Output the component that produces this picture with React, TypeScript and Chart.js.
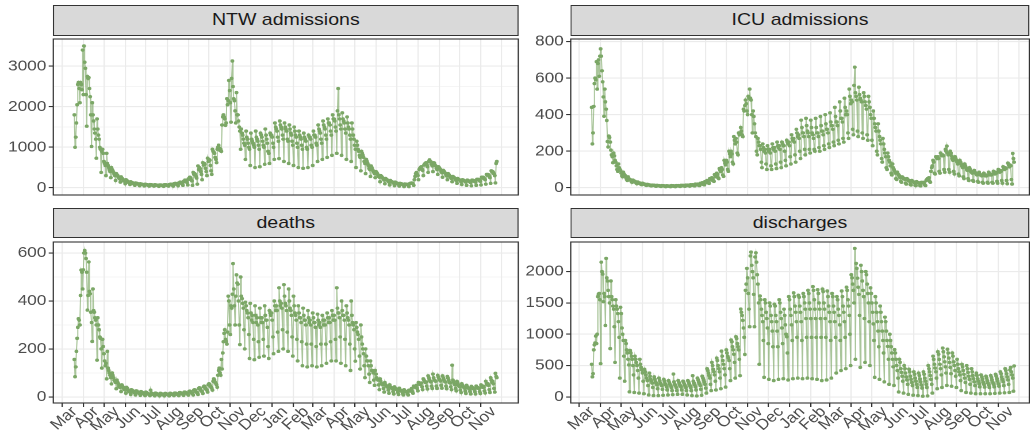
import { useEffect, useRef } from "react";
import { Chart, registerables } from "chart.js";

Chart.register(...registerables);

// ---------------- data ----------------
const FIRST_DATE = "2020-03-19";
const ORIGIN_DATE = "2020-03-01";

const MONTH_STARTS = [
  "2020-03-01", "2020-04-01", "2020-05-01", "2020-06-01", "2020-07-01", "2020-08-01",
  "2020-09-01", "2020-10-01", "2020-11-01", "2020-12-01", "2021-01-01", "2021-02-01",
  "2021-03-01", "2021-04-01", "2021-05-01", "2021-06-01", "2021-07-01", "2021-08-01",
  "2021-09-01", "2021-10-01", "2021-11-01", "2021-12-01",
];
const MONTH_LABELS = [
  "Mar", "Apr", "May", "Jun", "Jul", "Aug", "Sep", "Oct", "Nov", "Dec", "Jan", "Feb",
  "Mar", "Apr", "May", "Jun", "Jul", "Aug", "Sep", "Oct", "Nov", "",
];

const NTW_ADMISSIONS = [
  1800, 1000, 1250, 1600, 2050, 2550, 2600,
  2450, 2100, 2600, 2550, 2420, 3400, 2300,
  3500, 3100, 2950, 2300, 1520, 2750, 2700,
  2720, 2450, 2250, 1800, 1020, 2100, 1800,
  1650, 1450, 1350, 1200, 730, 1700, 1450,
  1300, 1200, 1000, 950, 380, 900, 950,
  850, 650, 600, 550, 300, 850, 600,
  550, 500, 450, 400, 250, 500, 450,
  420, 380, 330, 300, 180, 350, 320,
  300, 260, 240, 220, 140, 270, 240,
  220, 200, 170, 160, 100, 200, 180,
  170, 150, 130, 120, 80, 150, 130,
  130, 120, 100, 100, 60, 120, 110,
  110, 100, 90, 80, 50, 100, 90,
  90, 85, 75, 70, 45, 90, 80,
  80, 75, 65, 60, 40, 80, 75,
  75, 70, 60, 55, 40, 75, 70,
  70, 65, 60, 55, 35, 70, 65,
  70, 65, 55, 50, 35, 75, 70,
  75, 70, 60, 55, 40, 80, 75,
  90, 85, 70, 65, 40, 100, 95,
  110, 100, 85, 80, 50, 120, 115,
  140, 130, 110, 100, 60, 160, 150,
  190, 180, 150, 130, 70, 220, 210,
  260, 250, 200, 170, 60, 380, 330,
  350, 330, 280, 240, 90, 540, 450,
  500, 470, 400, 330, 200, 620, 560,
  600, 580, 480, 400, 300, 730, 650,
  700, 680, 550, 420, 330, 950, 900,
  880, 850, 750, 700, 620, 950, 1000,
  1050, 980, 920, 950, 900, 1550, 1750,
  1800, 1750, 1700, 1540, 1600, 2200, 2050,
  2150, 2650, 2400, 2100, 1620, 2700, 3130,
  2500, 2200, 2150, 1900, 1600, 2350, 1800,
  1800, 1650, 1500, 1400, 950, 1450, 1350,
  1300, 1200, 1100, 1050, 700, 1400, 1250,
  1200, 1100, 1000, 950, 550, 1350, 1200,
  1150, 1100, 1050, 1000, 500, 1400, 1250,
  1200, 1150, 1050, 950, 520, 1350, 1300,
  1250, 1150, 1050, 1000, 580, 1450, 1300,
  1200, 1100, 900, 850, 600, 1350, 1300,
  1300, 1250, 1100, 1000, 700, 1600, 1500,
  1450, 1400, 1250, 1150, 720, 1650, 1550,
  1500, 1450, 1300, 1200, 650, 1600, 1500,
  1450, 1400, 1200, 1150, 600, 1550, 1450,
  1350, 1300, 1150, 1050, 550, 1500, 1400,
  1300, 1250, 1100, 1000, 500, 1400, 1300,
  1250, 1200, 1050, 950, 480, 1350, 1250,
  1200, 1150, 1000, 950, 500, 1300, 1250,
  1250, 1200, 1050, 1000, 550, 1400, 1300,
  1300, 1250, 1100, 1050, 650, 1550, 1450,
  1400, 1350, 1200, 1100, 700, 1650, 1550,
  1500, 1450, 1300, 1200, 750, 1700, 1600,
  1600, 1550, 1400, 1300, 800, 1800, 1700,
  1700, 1650, 1500, 1400, 850, 1900, 2450,
  1800, 1700, 1550, 1450, 800, 1850, 1700,
  1650, 1600, 1450, 1350, 700, 1750, 1600,
  1500, 1450, 1300, 1200, 650, 1600, 1450,
  1300, 1200, 1050, 950, 500, 1150, 1050,
  950, 900, 800, 750, 420, 900, 850,
  800, 750, 650, 600, 350, 700, 650,
  600, 550, 480, 450, 280, 540, 500,
  450, 420, 380, 350, 250, 400, 380,
  350, 320, 280, 260, 150, 300, 280,
  260, 240, 210, 190, 100, 230, 210,
  200, 180, 160, 140, 70, 180, 160,
  150, 140, 120, 110, 50, 140, 130,
  120, 110, 95, 85, 40, 110, 100,
  100, 90, 80, 70, 30, 95, 90,
  90, 85, 75, 70, 30, 100, 110,
  110, 120, 110, 100, 60, 200, 280,
  350, 380, 330, 300, 200, 450, 480,
  500, 520, 460, 430, 300, 560, 590,
  600, 620, 560, 520, 380, 650, 690,
  650, 640, 580, 540, 400, 620, 610,
  560, 540, 480, 450, 330, 520, 500,
  470, 450, 400, 370, 260, 430, 410,
  380, 360, 320, 290, 200, 350, 330,
  300, 280, 250, 230, 150, 280, 260,
  250, 230, 200, 180, 110, 230, 210,
  200, 190, 170, 150, 80, 200, 190,
  180, 170, 150, 140, 60, 190, 180,
  170, 160, 140, 130, 50, 190, 180,
  180, 170, 150, 140, 60, 210, 200,
  210, 200, 170, 160, 70, 260, 240,
  260, 250, 220, 200, 90, 330, 310,
  330, 320, 280, 250, 110, 420, 390,
  400, 380, 340, 300, 120, 600, 650,
];

const ICU_ADMISSIONS = [
  440, 240, 300, 445, 570, 600, 590,
  690, 540, 680, 700, 610, 720, 760,
  720, 640, 580, 497, 391, 540, 470,
  430, 368, 253, 223, 283, 275, 250,
  206, 180, 170, 137, 190, 175, 150,
  140, 120, 100, 90, 130, 110, 100,
  95, 80, 65, 60, 85, 75, 70,
  65, 55, 45, 40, 60, 50, 45,
  45, 40, 32, 30, 42, 38, 35,
  35, 30, 25, 22, 32, 28, 25,
  26, 22, 18, 17, 25, 22, 20,
  20, 17, 14, 13, 19, 17, 15,
  16, 14, 11, 10, 15, 14, 13,
  14, 12, 9, 8, 13, 12, 11,
  12, 10, 8, 7, 12, 11, 10,
  11, 9, 7, 6, 11, 10, 9,
  10, 9, 7, 6, 12, 10, 9,
  11, 9, 7, 6, 12, 10, 10,
  12, 10, 8, 7, 13, 12, 11,
  13, 11, 9, 8, 15, 13, 12,
  15, 13, 10, 9, 17, 15, 14,
  17, 15, 11, 10, 20, 18, 16,
  20, 18, 13, 12, 24, 22, 20,
  28, 25, 18, 16, 34, 30, 28,
  40, 36, 26, 24, 50, 46, 42,
  55, 50, 38, 35, 72, 66, 60,
  80, 72, 55, 50, 105, 95, 88,
  110, 100, 70, 62, 150, 135, 125,
  150, 140, 100, 90, 200, 185, 170,
  200, 185, 140, 130, 280, 260, 240,
  270, 250, 190, 180, 300, 290, 300,
  330, 310, 290, 280, 430, 420, 450,
  480, 460, 420, 400, 500, 490, 540,
  490, 480, 400, 300, 420, 390, 350,
  300, 280, 200, 180, 270, 250, 230,
  230, 210, 140, 110, 240, 220, 200,
  210, 190, 130, 100, 230, 210, 200,
  210, 190, 120, 100, 240, 220, 210,
  220, 200, 130, 105, 250, 230, 220,
  230, 210, 140, 110, 250, 240, 230,
  230, 200, 150, 120, 260, 250, 240,
  250, 230, 170, 130, 290, 270, 260,
  270, 250, 180, 140, 320, 300, 280,
  290, 270, 200, 160, 370, 330, 300,
  300, 280, 210, 180, 380, 340, 310,
  300, 280, 210, 190, 370, 330, 300,
  290, 270, 210, 200, 380, 330, 300,
  300, 280, 220, 200, 390, 340, 310,
  310, 290, 230, 210, 400, 350, 320,
  320, 300, 240, 220, 410, 360, 340,
  340, 320, 250, 230, 440, 390, 360,
  360, 340, 260, 240, 470, 420, 380,
  380, 360, 270, 250, 490, 440, 400,
  420, 400, 300, 270, 540, 500, 460,
  480, 470, 320, 290, 560, 660, 520,
  500, 480, 310, 280, 550, 510, 490,
  480, 470, 300, 270, 520, 500, 470,
  450, 430, 290, 260, 500, 470, 440,
  400, 380, 260, 230, 420, 380, 350,
  330, 310, 200, 180, 350, 310, 280,
  260, 240, 160, 140, 270, 240, 210,
  190, 170, 110, 100, 190, 170, 150,
  140, 120, 80, 70, 130, 110, 100,
  90, 80, 50, 45, 85, 75, 70,
  65, 55, 35, 30, 60, 55, 50,
  50, 45, 25, 20, 50, 45, 40,
  40, 35, 18, 15, 40, 35, 32,
  32, 28, 14, 12, 34, 30, 28,
  28, 25, 12, 10, 30, 28, 26,
  30, 28, 15, 12, 40, 45, 50,
  45, 55, 35, 30, 90, 110, 120,
  150, 140, 80, 75, 170, 165, 160,
  170, 160, 90, 80, 190, 180, 175,
  180, 175, 100, 85, 210, 200, 228,
  190, 180, 100, 85, 200, 190, 175,
  160, 150, 90, 75, 170, 160, 150,
  140, 130, 75, 65, 150, 140, 130,
  120, 110, 60, 50, 130, 120, 110,
  100, 95, 50, 40, 110, 100, 90,
  85, 80, 40, 35, 95, 85, 80,
  75, 70, 35, 30, 85, 75, 70,
  70, 65, 30, 25, 80, 70, 65,
  70, 65, 30, 25, 85, 75, 70,
  75, 70, 30, 25, 90, 80, 75,
  85, 80, 35, 25, 100, 90, 85,
  95, 90, 40, 25, 115, 105, 100,
  110, 105, 40, 22, 135, 125, 115,
  125, 120, 45, 20, 188, 160, 140,
];

const DEATHS = [
  156, 84, 125, 190, 244, 290, 326,
  320, 300, 423, 529, 520, 450, 530,
  600, 611, 600, 577, 520, 362, 423,
  563, 440, 430, 353, 310, 231, 450,
  360, 353, 330, 320, 300, 153, 330,
  300, 280, 250, 244, 200, 120, 240,
  210, 180, 150, 130, 140, 75, 190,
  120, 110, 100, 90, 80, 54, 100,
  90, 80, 70, 65, 60, 34, 70,
  60, 55, 45, 40, 40, 22, 50,
  45, 40, 35, 30, 28, 15, 40,
  35, 30, 25, 22, 20, 10, 30,
  28, 25, 20, 18, 16, 8, 25,
  24, 20, 17, 15, 14, 6, 22,
  20, 18, 15, 12, 12, 5, 20,
  18, 16, 13, 11, 10, 5, 28,
  16, 14, 12, 10, 9, 4, 16,
  15, 13, 11, 9, 8, 4, 15,
  14, 12, 10, 9, 8, 4, 14,
  14, 12, 10, 9, 8, 4, 15,
  15, 13, 11, 10, 9, 5, 16,
  16, 14, 12, 10, 10, 5, 18,
  18, 16, 14, 12, 11, 6, 20,
  20, 18, 15, 13, 12, 7, 22,
  24, 22, 18, 15, 14, 8, 28,
  30, 28, 22, 18, 17, 10, 35,
  38, 35, 28, 24, 22, 14, 42,
  45, 42, 35, 30, 28, 20, 50,
  55, 52, 45, 40, 36, 28, 65,
  75, 70, 60, 55, 50, 40, 90,
  110, 120, 100, 90, 156, 116, 183,
  230, 265, 280, 240, 231, 220, 270,
  420, 400, 300, 260, 380, 370, 428,
  556, 450, 380, 300, 420, 509, 475,
  470, 400, 300, 218, 500, 420, 410,
  390, 370, 280, 200, 395, 380, 360,
  350, 330, 260, 160, 390, 350, 320,
  340, 310, 240, 155, 380, 340, 310,
  330, 300, 230, 165, 370, 330, 310,
  330, 310, 240, 170, 380, 340, 320,
  320, 290, 210, 160, 360, 350, 340,
  350, 320, 250, 180, 400, 380, 360,
  380, 360, 270, 190, 455, 400, 380,
  390, 370, 280, 200, 468, 420, 390,
  380, 360, 270, 190, 450, 400, 370,
  360, 340, 250, 170, 420, 380, 350,
  340, 320, 240, 150, 380, 350, 330,
  330, 310, 230, 130, 370, 340, 320,
  320, 300, 220, 125, 360, 330, 310,
  320, 300, 220, 130, 350, 330, 310,
  310, 290, 210, 125, 345, 320, 300,
  310, 290, 220, 130, 340, 320, 300,
  320, 300, 220, 140, 350, 330, 310,
  330, 310, 230, 150, 360, 340, 320,
  340, 320, 240, 150, 455, 370, 350,
  350, 330, 250, 140, 400, 360, 340,
  340, 320, 240, 130, 380, 350, 330,
  320, 300, 220, 110, 400, 340, 310,
  300, 280, 200, 149, 310, 290, 270,
  260, 240, 170, 116, 300, 250, 220,
  200, 180, 130, 80, 200, 170, 150,
  150, 130, 95, 60, 150, 130, 110,
  110, 100, 70, 48, 110, 95, 80,
  75, 70, 50, 30, 75, 65, 55,
  55, 50, 35, 20, 60, 50, 45,
  45, 40, 28, 15, 50, 42, 38,
  38, 34, 22, 12, 42, 36, 32,
  32, 28, 18, 10, 36, 30, 26,
  26, 22, 14, 8, 30, 25, 22,
  22, 20, 12, 8, 28, 25, 24,
  30, 35, 22, 15, 45, 42, 40,
  45, 48, 35, 25, 60, 55, 52,
  55, 58, 42, 30, 75, 70, 65,
  60, 62, 45, 33, 88, 80, 72,
  65, 62, 45, 35, 95, 80, 70,
  68, 65, 45, 35, 90, 82, 75,
  70, 66, 48, 36, 88, 80, 72,
  65, 62, 45, 34, 85, 78, 70,
  60, 58, 42, 30, 132, 70, 62,
  55, 50, 35, 25, 65, 58, 50,
  45, 42, 28, 18, 55, 48, 42,
  40, 36, 24, 14, 48, 42, 38,
  36, 33, 22, 12, 44, 40, 35,
  35, 32, 22, 12, 45, 40, 36,
  38, 35, 22, 14, 50, 45, 40,
  45, 40, 25, 16, 65, 55, 50,
  55, 48, 30, 18, 80, 70, 60,
  65, 55, 35, 20, 98, 85, 80,
];

const DISCHARGES = [
  520, 320, 370, 750, 830, 860, 970,
  850, 1000, 1600, 1640, 1650, 1550, 530,
  2150, 2000, 1960, 1520, 1650, 1600, 1140,
  2210, 1900, 1850, 1700, 1600, 1500, 770,
  1850, 1600, 1550, 1450, 1400, 1120, 550,
  1550, 1450, 1400, 1330, 1200, 950, 300,
  1430, 1330, 1100, 1000, 900, 650, 250,
  900, 850, 750, 700, 600, 510, 80,
  740, 700, 650, 600, 500, 350, 70,
  650, 600, 550, 500, 420, 300, 60,
  600, 520, 470, 430, 380, 250, 50,
  440, 400, 350, 300, 260, 180, 30,
  380, 330, 280, 250, 220, 150, 20,
  320, 280, 240, 220, 190, 130, 20,
  300, 260, 220, 200, 180, 120, 25,
  280, 250, 210, 190, 160, 110, 30,
  260, 230, 200, 180, 150, 100, 35,
  364, 240, 200, 180, 150, 100, 40,
  260, 230, 200, 180, 160, 110, 40,
  250, 230, 200, 180, 150, 100, 30,
  260, 240, 210, 180, 150, 100, 20,
  338, 250, 220, 190, 160, 110, 15,
  300, 270, 240, 210, 180, 120, 25,
  330, 300, 270, 240, 200, 140, 60,
  450, 420, 380, 340, 300, 200, 100,
  550, 500, 440, 400, 350, 250, 110,
  620, 580, 500, 450, 400, 300, 130,
  730, 650, 580, 520, 450, 350, 156,
  750, 700, 650, 620, 580, 450, 260,
  909, 880, 800, 750, 680, 550, 300,
  961, 930, 850, 800, 750, 600, 338,
  1402, 1350, 1300, 1220, 1100, 950, 676,
  1700, 1800, 2050, 1900, 1650, 1400, 1120,
  2250, 2311, 2100, 2000, 1900, 1635, 1120,
  2233, 2300, 2150, 1950, 1800, 1500, 520,
  1610, 1550, 1400, 1300, 1200, 900, 311,
  1550, 1500, 1350, 1250, 1100, 850, 280,
  1500, 1450, 1300, 1200, 1050, 800, 260,
  1480, 1450, 1300, 1200, 1050, 800, 280,
  1550, 1500, 1350, 1250, 1100, 850, 290,
  1400, 1300, 1150, 1000, 960, 700, 270,
  1600, 1550, 1400, 1300, 1150, 900, 290,
  1660, 1600, 1450, 1350, 1200, 950, 300,
  1620, 1590, 1450, 1350, 1200, 900, 290,
  1650, 1600, 1500, 1400, 1250, 950, 300,
  1700, 1650, 1500, 1400, 1250, 950, 290,
  1760, 1700, 1550, 1400, 1250, 950, 280,
  1710, 1650, 1500, 1400, 1250, 950, 260,
  1720, 1680, 1500, 1400, 1250, 950, 270,
  1690, 1600, 1450, 1350, 1200, 900, 300,
  1650, 1600, 1450, 1350, 1200, 950, 380,
  1600, 1550, 1400, 1300, 1150, 900, 420,
  1690, 1600, 1450, 1350, 1200, 950, 450,
  1750, 1700, 1550, 1450, 1300, 1000, 500,
  1950, 1900, 1800, 1700, 1500, 2370, 600,
  2130, 2050, 1895, 1750, 1635, 1300, 470,
  2100, 2000, 1850, 1700, 1600, 1250, 550,
  2000, 1950, 1800, 1650, 1500, 1200, 500,
  1740, 1650, 1500, 1350, 1165, 900, 311,
  1600, 1500, 1350, 1200, 1050, 800, 280,
  1450, 1350, 1200, 1050, 900, 700, 240,
  1272, 1200, 1050, 900, 805, 600, 200,
  1000, 900, 800, 700, 600, 480, 182,
  754, 700, 600, 500, 420, 300, 78,
  600, 550, 450, 390, 330, 250, 60,
  500, 450, 380, 320, 270, 200, 40,
  442, 400, 330, 280, 230, 180, 26,
  400, 360, 300, 250, 200, 150, 20,
  380, 340, 286, 240, 190, 140, 10,
  400, 360, 300, 250, 200, 150, 15,
  500, 450, 400, 340, 280, 200, 60,
  650, 598, 520, 460, 400, 300, 130,
  720, 680, 598, 520, 450, 350, 150,
  779, 720, 640, 560, 480, 380, 182,
  760, 700, 620, 550, 470, 370, 170,
  700, 650, 560, 500, 420, 330, 150,
  600, 520, 450, 400, 350, 260, 100,
  520, 480, 420, 360, 300, 230, 70,
  500, 450, 390, 330, 280, 200, 60,
  450, 400, 340, 290, 240, 180, 50,
  380, 340, 290, 250, 210, 160, 50,
  350, 320, 280, 234, 200, 156, 50,
  330, 300, 260, 220, 190, 150, 50,
  340, 310, 270, 230, 200, 160, 55,
  360, 330, 290, 250, 210, 170, 60,
  400, 370, 320, 280, 240, 180, 65,
  450, 420, 370, 320, 270, 200, 70,
  430, 470, 400, 350, 300, 90, 494,
];

const NTW_Y_TICKS = [0, 500, 1000, 1500, 2000, 2500, 3000, 3500];
const ICU_Y_TICKS = [0, 100, 200, 300, 400, 500, 600, 700, 800];
const DEATHS_Y_TICKS = [0, 100, 200, 300, 400, 500, 600];
const DISCHARGES_Y_TICKS = [0, 250, 500, 750, 1000, 1250, 1500, 1750, 2000, 2250];

// ---------------- layout / style ----------------
const STRETCH = 1.15; // the reference picture is widened horizontally
const PX_PER_DAY = 0.6869; // reference pixels per day
const FONT = '"Liberation Sans", Arial, Helvetica, sans-serif';
const LINE_COLOR = "rgba(128,170,106,0.68)";
const POINT_COLOR = "#7BA766";
const GRID = "#EBEBEB";
const DARK = "#333333";
const AXIS_TEXT = "#4D4D4D";

const COLUMNS = [
  { canvasLeft: 0, canvasWidth: 454, plotLeft: 53.3, plotRight: 518.3, marchX: 62 },
  { canvasLeft: 454, canvasWidth: 442, plotLeft: 570.7, plotRight: 1029.3, marchX: 579.3 },
];
const ROWS = [
  { canvasTop: 28, canvasHeight: 178, plotTop: 35, plotBottom: 201, stripTop: 5, showX: false },
  { canvasTop: 231, canvasHeight: 199, plotTop: 238, plotBottom: 403, stripTop: 208.3, showX: true },
];

type PanelSpec = {
  title: string;
  values: number[];
  yTicks: number[];
  major: number;
  yMin: number;
  yMax: number;
  col: number;
  row: number;
};

const PANELS: PanelSpec[] = [
  { title: "NTW admissions", values: NTW_ADMISSIONS, yTicks: NTW_Y_TICKS, major: 1000, yMin: -178, yMax: 3673, col: 0, row: 0 },
  { title: "ICU admissions", values: ICU_ADMISSIONS, yTicks: ICU_Y_TICKS, major: 200, yMin: -39.6, yMax: 814, col: 1, row: 0 },
  { title: "deaths", values: DEATHS, yTicks: DEATHS_Y_TICKS, major: 200, yMin: -25.6, yMax: 646, col: 0, row: 1 },
  { title: "discharges", values: DISCHARGES, yTicks: DISCHARGES_Y_TICKS, major: 500, yMin: -98, yMax: 2472, col: 1, row: 1 },
];

const dayNumber = (iso: string) =>
  Math.round((Date.parse(iso) - Date.parse(ORIGIN_DATE)) / 86400000);
const MONTH_DAYS = MONTH_STARTS.map(dayNumber);
const START_DAY = dayNumber(FIRST_DATE);

const panelBorder = {
  id: "panelBorder",
  afterDraw(chart: any) {
    const { ctx, chartArea: a } = chart;
    ctx.save();
    ctx.strokeStyle = DARK;
    ctx.lineWidth = 1.1;
    ctx.strokeRect(a.left, a.top, a.right - a.left, a.bottom - a.top);
    ctx.restore();
  },
};

function Panel({ spec }: { spec: PanelSpec }) {
  const ref = useRef<HTMLCanvasElement | null>(null);
  const col = COLUMNS[spec.col];
  const row = ROWS[spec.row];

  useEffect(() => {
    if (!ref.current) return;
    const plotLeft = col.plotLeft / STRETCH;
    const plotRight = col.plotRight / STRETCH;
    const xMin = (col.plotLeft - col.marchX) / PX_PER_DAY;
    const xMax = (col.plotRight - col.marchX) / PX_PER_DAY;
    const showX = row.showX;

    const chart = new Chart(ref.current, {
      type: "line",
      data: {
        datasets: [
          {
            data: spec.values.map((v, i) => ({ x: START_DAY + i, y: v })),
            borderColor: LINE_COLOR,
            borderWidth: 1,
            pointRadius: 1.7,
            pointHoverRadius: 1.7,
            pointBackgroundColor: POINT_COLOR,
            pointBorderWidth: 0,
            tension: 0,
          },
        ],
      },
      options: {
        animation: false,
        responsive: false,
        devicePixelRatio: 2,
        events: [],
        layout: {
          autoPadding: false,
          padding: {
            left: 0,
            right: col.canvasLeft + col.canvasWidth - plotRight,
            top: row.plotTop - row.canvasTop,
            bottom: showX ? 0 : row.canvasTop + row.canvasHeight - row.plotBottom,
          },
        },
        plugins: { legend: { display: false }, tooltip: { enabled: false } },
        scales: {
          x: {
            type: "linear",
            min: xMin,
            max: xMax,
            afterBuildTicks: (s: any) => {
              s.ticks = MONTH_DAYS.map((v) => ({ value: v }));
            },
            afterFit: (s: any) => {
              s.height = showX ? row.canvasTop + row.canvasHeight - row.plotBottom : 0;
            },
            border: { display: false },
            grid: {
              color: GRID,
              lineWidth: 1.1,
              drawTicks: showX,
              tickLength: 4,
              tickWidth: 1.1,
              tickColor: (ctx: any) => (MONTH_LABELS[ctx.index] ? DARK : "rgba(0,0,0,0)"),
            },
            ticks: {
              display: showX,
              autoSkip: false,
              minRotation: 45,
              maxRotation: 45,
              padding: -4,
              labelOffset: 11,
              color: AXIS_TEXT,
              font: { family: FONT, size: 15 },
              callback: (_v: any, i: number) => MONTH_LABELS[i],
            },
          },
          y: {
            min: spec.yMin,
            max: spec.yMax,
            afterBuildTicks: (s: any) => {
              s.ticks = spec.yTicks.map((v) => ({ value: v }));
            },
            afterFit: (s: any) => {
              s.width = plotLeft - col.canvasLeft;
            },
            border: { display: false },
            grid: {
              color: GRID,
              lineWidth: (ctx: any) => (ctx.tick && ctx.tick.value % spec.major === 0 ? 1.1 : 0.55),
              tickLength: 4,
              tickWidth: 1.1,
              tickColor: (ctx: any) =>
                ctx.tick && ctx.tick.value % spec.major === 0 ? DARK : "rgba(0,0,0,0)",
            },
            ticks: {
              padding: 2,
              color: AXIS_TEXT,
              font: { family: FONT, size: 15 },
              callback: (v: any) => (Number(v) % spec.major === 0 ? String(v) : ""),
            },
          },
        },
      },
      plugins: [panelBorder],
    });
    return () => chart.destroy();
  }, []);

  const stripLeft = col.plotLeft / STRETCH;
  const stripWidth = (col.plotRight - col.plotLeft) / STRETCH;
  return (
    <>
      <canvas
        ref={ref}
        width={col.canvasWidth}
        height={row.canvasHeight}
        style={{
          position: "absolute",
          left: col.canvasLeft,
          top: row.canvasTop,
          width: col.canvasWidth,
          height: row.canvasHeight,
        }}
      />
      <div
        style={{
          position: "absolute",
          left: stripLeft,
          top: row.stripTop,
          width: stripWidth,
          height: row.plotTop - row.stripTop + 0.5,
          boxSizing: "border-box",
          background: "#D9D9D9",
          border: `1.1px solid ${DARK}`,
          color: "#1A1A1A",
          fontFamily: FONT,
          fontSize: 17,
          display: "flex",
          alignItems: "center",
          justifyContent: "center",
          whiteSpace: "nowrap",
        }}
      >
        {spec.title}
      </div>
    </>
  );
}

export default function App() {
  return (
    <div
      style={{
        position: "absolute",
        left: 0,
        top: 0,
        width: 1030 / STRETCH,
        height: 430,
        background: "#FFFFFF",
        transform: `scaleX(${STRETCH})`,
        transformOrigin: "0 0",
        overflow: "hidden",
      }}
    >
      {PANELS.map((p) => (
        <Panel key={p.title} spec={p} />
      ))}
    </div>
  );
}
